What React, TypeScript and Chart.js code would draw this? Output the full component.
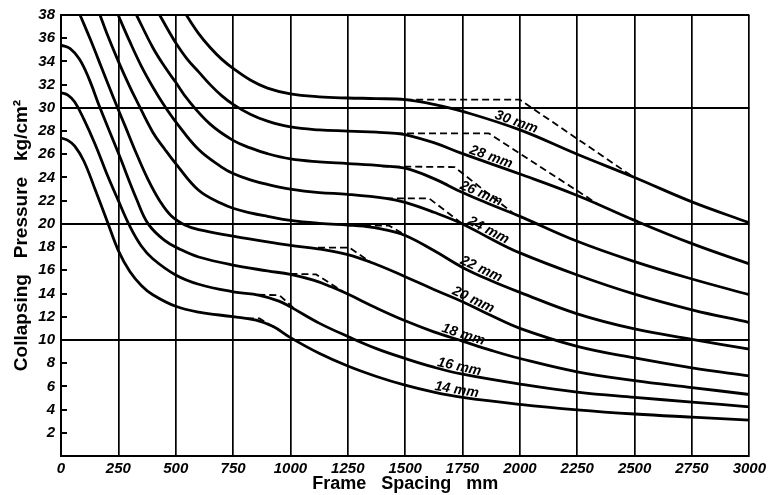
import React, { useEffect, useRef } from 'react';
import { Chart, registerables } from 'chart.js';

Chart.register(...registerables);

const FONT = "'Liberation Sans', Arial, Helvetica, sans-serif";

// Plate thickness labels
const thicknessLabels = ['14 mm', '16 mm', '18 mm', '20 mm', '22 mm', '24 mm', '26 mm', '28 mm', '30 mm'];

// Solid curves: [frame spacing mm, collapsing pressure kg/cm2]
const t14: [number, number][] = [[0, 27.4], [30, 27.2], [60, 26.7], [100, 25.4], [150, 22.9], [200, 20.3], [250, 17.7], [300, 15.9], [350, 14.7], [400, 13.9], [500, 12.9], [600, 12.4], [750, 12.0], [850, 11.7], [925, 11.15], [1000, 10.2], [1125, 8.85], [1250, 7.75], [1375, 6.85], [1500, 6.1], [1625, 5.5], [1750, 5.05], [2000, 4.45], [2250, 3.98], [2500, 3.62], [2750, 3.35], [3000, 3.1]];
const t16: [number, number][] = [[0, 31.3], [30, 31.1], [60, 30.5], [100, 29.0], [150, 26.8], [200, 24.3], [250, 22.0], [300, 19.8], [350, 18.1], [400, 17.0], [500, 15.6], [600, 14.8], [750, 14.15], [865, 13.85], [950, 13.35], [1000, 12.85], [1125, 11.45], [1250, 10.3], [1375, 9.25], [1500, 8.4], [1625, 7.65], [1750, 7.05], [2000, 6.2], [2250, 5.5], [2500, 5.05], [2750, 4.65], [3000, 4.24]];
const t18: [number, number][] = [[0, 35.4], [40, 35.1], [80, 34.2], [120, 32.6], [170, 30.0], [250, 26.1], [330, 22.1], [380, 20.0], [450, 18.6], [520, 17.8], [600, 17.15], [750, 16.45], [900, 15.95], [1000, 15.65], [1100, 15.15], [1175, 14.6], [1250, 13.95], [1375, 12.75], [1500, 11.65], [1625, 10.7], [1750, 9.9], [1875, 9.1], [2000, 8.4], [2250, 7.25], [2500, 6.5], [2750, 5.9], [3000, 5.3]];
const t20: [number, number][] = [[83, 38], [130, 35.8], [180, 33.3], [230, 30.8], [280, 28.4], [330, 26.0], [380, 23.8], [430, 22.0], [480, 20.7], [540, 19.9], [600, 19.5], [750, 18.95], [900, 18.45], [1000, 18.15], [1120, 17.85], [1250, 17.35], [1375, 16.5], [1500, 15.45], [1625, 14.35], [1750, 13.3], [1875, 12.1], [2000, 11.0], [2250, 9.45], [2500, 8.45], [2750, 7.6], [3000, 6.9]];
const t22: [number, number][] = [[170, 38], [200, 36.4], [250, 34.0], [300, 31.8], [330, 30.6], [400, 27.9], [450, 26.5], [500, 25.2], [600, 22.9], [700, 21.75], [750, 21.35], [825, 20.95], [900, 20.65], [1000, 20.3], [1125, 20.05], [1250, 19.9], [1320, 19.8], [1400, 19.55], [1500, 19.0], [1625, 17.7], [1750, 16.25], [1875, 15.1], [2000, 14.1], [2250, 12.25], [2500, 10.95], [2750, 10.05], [3000, 9.2]];
const t24: [number, number][] = [[249, 38], [300, 35.7], [350, 33.6], [400, 31.8], [450, 30.2], [500, 28.8], [600, 26.4], [700, 24.9], [750, 24.35], [825, 23.8], [900, 23.4], [1000, 23.0], [1125, 22.7], [1250, 22.55], [1416, 22.2], [1500, 21.85], [1625, 21.0], [1750, 20.0], [1875, 18.7], [2000, 17.5], [2250, 15.6], [2500, 13.95], [2750, 12.6], [3000, 11.5]];
const t26: [number, number][] = [[329, 38], [400, 35.2], [450, 33.6], [500, 32.2], [553, 30.7], [650, 28.6], [750, 27.2], [825, 26.55], [900, 26.05], [1000, 25.6], [1125, 25.35], [1250, 25.2], [1400, 25.0], [1500, 24.8], [1625, 23.9], [1750, 22.7], [1875, 21.65], [2000, 20.65], [2250, 18.5], [2500, 16.75], [2750, 15.25], [3000, 13.9]];
const t28: [number, number][] = [[430, 38], [470, 36.6], [500, 35.6], [550, 34.2], [600, 33.1], [650, 32.0], [700, 31.05], [750, 30.3], [825, 29.45], [900, 28.85], [1000, 28.35], [1125, 28.1], [1250, 28.0], [1375, 27.9], [1460, 27.8], [1500, 27.7], [1625, 27.0], [1750, 26.05], [2000, 24.3], [2250, 22.45], [2500, 20.3], [2750, 18.3], [3000, 16.55]];
const t30: [number, number][] = [[546, 38], [600, 36.4], [650, 35.2], [700, 34.2], [750, 33.4], [825, 32.4], [900, 31.7], [1000, 31.2], [1125, 30.95], [1250, 30.85], [1375, 30.8], [1500, 30.7], [1625, 30.3], [1750, 29.7], [2000, 28.1], [2250, 26.0], [2500, 24.0], [2750, 21.9], [3000, 20.1]];

// Dashed variants
const d14: [number, number][] = [[810, 11.85], [865, 11.85], [950, 10.85]];
const d16: [number, number][] = [[860, 13.9], [952, 13.85], [1020, 12.65]];
const d18: [number, number][] = [[1000, 15.7], [1112, 15.65], [1230, 14.15]];
const d20: [number, number][] = [[1120, 17.95], [1257, 17.95], [1350, 16.7]];
const d22: [number, number][] = [[1320, 19.85], [1430, 19.85], [1535, 18.65]];
const d24: [number, number][] = [[1416, 22.2], [1604, 22.2], [1750, 20.0]];
const d26: [number, number][] = [[1400, 24.95], [1715, 24.9], [1975, 20.85]];
const d28: [number, number][] = [[1460, 27.8], [1865, 27.8], [2340, 21.7]];
const d30: [number, number][] = [[1500, 30.7], [2000, 30.7], [2490, 24.1]];

const solidSeries = [t14, t16, t18, t20, t22, t24, t26, t28, t30];
const dashedSeries = [d14, d16, d18, d20, d22, d24, d26, d28, d30];

// where along each curve (mm) its label sits
const labelAnchorX = [1720, 1730, 1745, 1785, 1820, 1850, 1820, 1865, 1975];

const majorY = [10, 20, 30, 38];

function interp(pts: [number, number][], x: number): number {
  if (x <= pts[0][0]) return pts[0][1];
  for (let i = 1; i < pts.length; i++) {
    if (x <= pts[i][0]) {
      const [x0, y0] = pts[i - 1];
      const [x1, y1] = pts[i];
      return y0 + ((y1 - y0) * (x - x0)) / (x1 - x0);
    }
  }
  return pts[pts.length - 1][1];
}

const curveLabelPlugin = {
  id: 'curveLabels',
  afterDatasetsDraw(chart: any) {
    const { ctx } = chart;
    const xs = chart.scales.x;
    const ys = chart.scales.y;
    ctx.save();
    ctx.font = `italic bold 14px ${FONT}`;
    ctx.fillStyle = '#000';
    ctx.textAlign = 'center';
    ctx.textBaseline = 'alphabetic';
    solidSeries.forEach((pts, i) => {
      const lx = labelAnchorX[i];
      const px0 = xs.getPixelForValue(lx - 60);
      const py0 = ys.getPixelForValue(interp(pts, lx - 60));
      const px1 = xs.getPixelForValue(lx + 60);
      const py1 = ys.getPixelForValue(interp(pts, lx + 60));
      const ang = Math.atan2(py1 - py0, px1 - px0);
      const cx = xs.getPixelForValue(lx);
      const cy = ys.getPixelForValue(interp(pts, lx));
      ctx.save();
      ctx.translate(cx, cy);
      ctx.rotate(ang);
      ctx.fillText(thicknessLabels[i], 0, -2.5);
      ctx.restore();
    });
    ctx.restore();
  },
};

const innerTickPlugin = {
  id: 'innerTicks',
  afterDraw(chart: any) {
    const { ctx, chartArea } = chart;
    const ys = chart.scales.y;
    ctx.save();
    ctx.strokeStyle = '#000';
    ctx.lineWidth = 2;
    ctx.beginPath();
    ys.ticks.forEach((t: any) => {
      if (t.value <= 0 || majorY.includes(t.value)) return;
      const py = Math.round(ys.getPixelForValue(t.value));
      ctx.moveTo(chartArea.left, py);
      ctx.lineTo(chartArea.left + 6, py);
    });
    ctx.stroke();
    ctx.restore();
  },
};

export default function App() {
  const canvasRef = useRef<HTMLCanvasElement | null>(null);

  useEffect(() => {
    if (!canvasRef.current) return;
    const datasets: any[] = [];
    solidSeries.forEach((pts, i) => {
      datasets.push({
        label: thicknessLabels[i],
        data: pts.map(([x, y]) => ({ x, y })),
        borderColor: '#000',
        borderWidth: 2.8,
        pointRadius: 0,
        fill: false,
        tension: 0.4,
      });
    });
    dashedSeries.forEach((pts, i) => {
      datasets.push({
        label: thicknessLabels[i] + ' (dashed)',
        data: pts.map(([x, y]) => ({ x, y })),
        borderColor: '#000',
        borderWidth: 1.8,
        borderDash: [7, 4],
        pointRadius: 0,
        fill: false,
        tension: 0,
      });
    });

    const chart = new Chart(canvasRef.current, {
      type: 'line',
      data: { datasets },
      plugins: [curveLabelPlugin, innerTickPlugin],
      options: {
        animation: false,
        responsive: false,
        devicePixelRatio: 1,
        layout: { padding: { left: 0, right: 19, top: 15, bottom: 0 } },
        plugins: {
          legend: { display: false },
          tooltip: { enabled: false },
        },
        scales: {
          x: {
            type: 'linear',
            min: 0,
            max: 3000,
            afterFit: (s: any) => {
              s.height = 39;
            },
            ticks: {
              stepSize: 250,
              autoSkip: false,
              maxRotation: 0,
              padding: 4,
              color: '#000',
              font: { family: FONT, size: 15, style: 'italic', weight: 'bold' },
              callback: (v: any) => String(v),
            },
            grid: {
              color: '#000',
              lineWidth: 1.7,
              drawTicks: false,
            },
            border: { display: true, color: '#000', width: 2 },
            title: {
              display: true,
              text: 'Frame   Spacing   mm',
              color: '#000',
              font: { family: FONT, size: 18, weight: 'bold' },
              padding: { top: 0, bottom: 0 },
            },
          },
          y: {
            type: 'linear',
            min: 0,
            max: 38,
            afterFit: (s: any) => {
              s.width = 61;
            },
            ticks: {
              stepSize: 2,
              padding: 6,
              color: '#000',
              font: { family: FONT, size: 15, style: 'italic', weight: 'bold' },
              callback: (v: any) => (v === 0 ? '' : String(v)),
            },
            grid: {
              color: (c: any) => (c.tick && majorY.includes(c.tick.value) ? '#000' : 'rgba(0,0,0,0)'),
              lineWidth: 2,
              drawTicks: false,
            },
            border: { display: true, color: '#000', width: 2 },
            title: {
              display: true,
              text: 'Collapsing   Pressure   kg/cm²',
              color: '#000',
              font: { family: FONT, size: 19, weight: 'bold' },
              padding: { top: 10, bottom: 0 },
            },
          },
        },
      } as any,
    });
    return () => chart.destroy();
  }, []);

  return (
    <div style={{ position: 'absolute', left: 0, top: 0, width: 770, height: 495, background: '#fff' }}>
      <canvas ref={canvasRef} width={770} height={495} />
    </div>
  );
}
